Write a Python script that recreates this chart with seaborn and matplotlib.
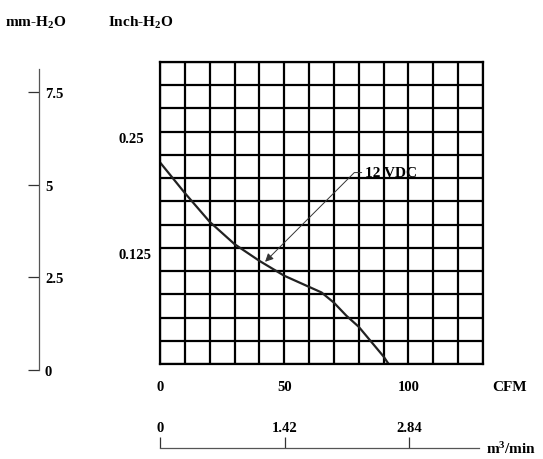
import numpy as np
import pandas as pd
import matplotlib
matplotlib.use("Agg")
import matplotlib.pyplot as plt
import matplotlib.transforms as mtransforms
import seaborn as sns

# fan curve (12 VDC)
cfm = [0, 10, 20, 30, 40, 50, 60, 65, 70, 75, 80, 85, 90, 92]
inch_h2o = [0.217, 0.184, 0.153, 0.129, 0.111, 0.095, 0.083, 0.077, 0.066, 0.052, 0.040, 0.024, 0.008, 0.0]

cfm_ticks = [0, 50, 100]
inch_ticks = [0.125, 0.25]
mm_ticks = [0, 2.5, 5, 7.5]
m3_ticks = [0, 1.42, 2.84]
curve_label = "12 VDC"

sns.set_style("white")
plt.rcParams['font.family'] = ['Liberation Serif', 'DejaVu Serif']
plt.rcParams['font.weight'] = 'bold'
plt.rcParams['text.color'] = 'black'
plt.rcParams['xtick.color'] = 'black'
plt.rcParams['ytick.color'] = 'black'
plt.rcParams['mathtext.fontset'] = 'custom'
plt.rcParams['mathtext.rm'] = 'Liberation Serif:bold'
plt.rcParams['mathtext.it'] = 'Liberation Serif:bold'
plt.rcParams['mathtext.bf'] = 'Liberation Serif:bold'
plt.rcParams['mathtext.default'] = 'rm'

W, H = 543, 460
fig = plt.figure(figsize=(W / 100, H / 100), dpi=100)

def box(l, t, r, b):
    # pixel box -> figure fraction
    return [l / W, (H - b) / H, (r - l) / W, (b - t) / H]

# main grid
ax = fig.add_axes(box(160, 63, 483, 365))
df = pd.DataFrame({"cfm": cfm, "inch": inch_h2o})
sns.lineplot(data=df, x="cfm", y="inch", ax=ax, color="#222222", lw=1.6)
ax.set_xlim(0, 130)
ax.set_ylim(0, 0.325)
ax.set_xticks(np.arange(0, 131, 10))
ax.set_yticks(np.arange(0, 0.326, 0.025))
ax.grid(True, color="black", lw=1.6)
for s in ax.spines.values():
    s.set_visible(True)
    s.set_color("black")
    s.set_linewidth(1.6)
ax.tick_params(length=0, labelbottom=False, labelleft=False)
ax.set_xlabel("")
ax.set_ylabel("")

# axis numbers
xt = mtransforms.blended_transform_factory(ax.transData, ax.transAxes)
for v in cfm_ticks:
    ax.text(v, -0.076, str(v), transform=xt, ha="center", va="center", fontsize=10.5, fontweight="bold")
ax.text(1.03, -0.076, "CFM", transform=ax.transAxes, ha="left", va="center", fontsize=11, fontweight="bold")
yt = mtransforms.blended_transform_factory(ax.transAxes, ax.transData)
for v in inch_ticks:
    ax.text(-0.13, v, f"{v:g}", transform=yt, ha="left", va="top", fontsize=10.5, fontweight="bold")

ax.annotate(curve_label, xy=(42.3, 0.110), xytext=(82.5, 0.206),
            fontsize=11, fontweight="bold", va="center", ha="left",
            arrowprops=dict(arrowstyle="-|>", color="#333333", lw=0.7, mutation_scale=12,
                            relpos=(0, 0.5), shrinkA=0, shrinkB=0,
                            connectionstyle="angle,angleA=180,angleB=45,rad=0"))

# headers
fig.text(5 / W, 1 - 23 / H, r"mm-H$_2$O", ha="left", va="center", fontsize=11, fontweight="bold")
fig.text(108 / W, 1 - 23 / H, r"Inch-H$_2$O", ha="left", va="center", fontsize=11, fontweight="bold")

# mm-H2O scale
axm = fig.add_axes(box(39, 70, 39.1, 371))
axm.set_ylim(0, 8.12)
axm.set_xticks([])
axm.set_yticks(mm_ticks)
axm.set_yticklabels([f"{v:g}" for v in mm_ticks])
for k, s in axm.spines.items():
    s.set_visible(k == "left")
axm.spines["left"].set_color("#555555")
axm.spines["left"].set_linewidth(0.9)
axm.tick_params(axis="y", left=True, right=False, labelleft=False, labelright=True,
                direction="out", length=8, width=0.9, color="#333333", pad=-3.8, labelsize=10.5)
axm.set_facecolor("none")

# m3/min scale
axb = fig.add_axes(box(160, 449, 483, 449.1))
axb.set_xlim(0, 130 * 0.0283168)
axb.set_yticks([])
axb.set_xticks(m3_ticks)
axb.set_xticklabels([f"{v:g}" for v in m3_ticks])
for k, s in axb.spines.items():
    s.set_visible(k == "bottom")
axb.spines["bottom"].set_color("#555555")
axb.spines["bottom"].set_linewidth(0.9)
axb.spines["bottom"].set_bounds(0, 3.63)
axb.tick_params(axis="x", bottom=True, top=False, labelbottom=False, labeltop=True,
                direction="in", length=8, width=0.9, color="#333333", pad=10, labelsize=10.5)
axb.set_facecolor("none")
axb.text(1.01, 0.0, r"m$^3$/min", transform=axb.transAxes, ha="left", va="center",
         fontsize=11, fontweight="bold")

fig.savefig("out.png", dpi=100)
